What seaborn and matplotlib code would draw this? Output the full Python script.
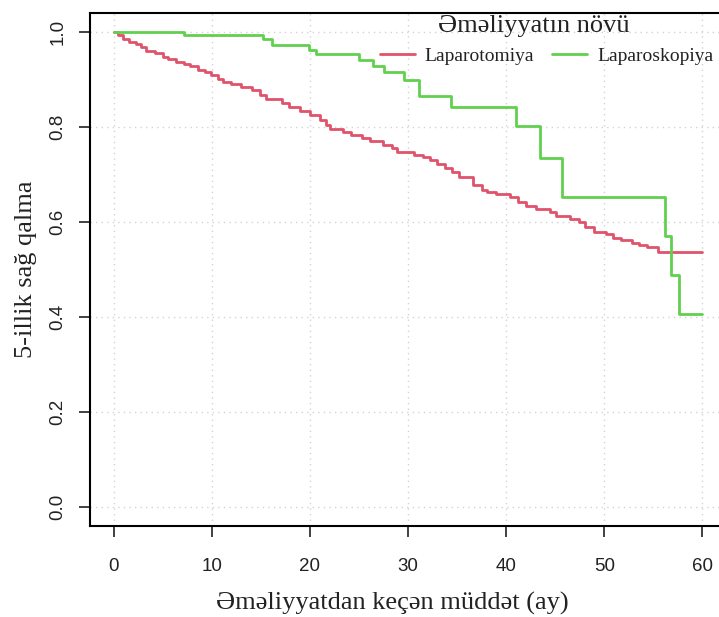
import matplotlib
matplotlib.use("Agg")
import matplotlib.pyplot as plt
from matplotlib.lines import Line2D
import seaborn as sns
import pandas as pd

# ---- data ----
groups = ["Laparotomiya", "Laparoskopiya"]
legend_title = "Əməliyyatın növü"

lap_tomiya_time = [0, 0.5, 1.0, 1.6, 2.3, 2.8, 3.3, 4.2, 5.0, 5.5, 6.4, 7.2, 7.8, 8.6,
                   9.3, 9.9, 10.6, 11.1, 12.0, 13.0, 14.1, 14.9, 15.5, 17.2, 17.9, 19.0,
                   20.0, 21.0, 21.6, 22.1, 23.4, 24.2, 25.3, 26.1, 27.5, 28.4, 28.9, 30.6,
                   31.5, 32.2, 33.0, 33.8, 34.5, 35.2, 36.6, 37.5, 38.0, 39.0, 40.4, 41.2,
                   42.0, 43.0, 44.5, 45.1, 46.5, 47.4, 48.0, 48.9, 50.2, 50.9, 51.7, 52.8,
                   53.5, 54.3, 55.5, 60.0]
lap_tomiya_surv = [1.0, 0.993, 0.986, 0.980, 0.974, 0.968, 0.960, 0.955, 0.948, 0.943,
                   0.937, 0.932, 0.928, 0.921, 0.916, 0.910, 0.902, 0.895, 0.890, 0.884,
                   0.877, 0.868, 0.859, 0.851, 0.842, 0.834, 0.826, 0.815, 0.805, 0.796,
                   0.790, 0.784, 0.777, 0.770, 0.763, 0.755, 0.748, 0.742, 0.736, 0.730,
                   0.722, 0.714, 0.706, 0.694, 0.678, 0.668, 0.664, 0.660, 0.652, 0.643,
                   0.634, 0.628, 0.622, 0.612, 0.607, 0.600, 0.590, 0.579, 0.574, 0.567,
                   0.562, 0.556, 0.551, 0.547, 0.537, 0.537]

lap_skopiya_time = [0, 7.2, 15.2, 16.1, 19.9, 20.6, 25.0, 26.4, 27.6, 29.6, 31.1, 34.4,
                    41.0, 43.4, 45.7, 56.2, 56.8, 57.6, 60.0]
lap_skopiya_surv = [1.0, 0.994, 0.986, 0.972, 0.962, 0.953, 0.941, 0.929, 0.916, 0.899,
                    0.865, 0.843, 0.802, 0.734, 0.653, 0.571, 0.488, 0.407, 0.407]

x_ticks = [0, 10, 20, 30, 40, 50, 60]
y_ticks = [0.0, 0.2, 0.4, 0.6, 0.8, 1.0]
y_tick_labels = ["0.0", "0.2", "0.4", "0.6", "0.8", "1.0"]
colors = ["#DF536B", "#61D04F"]

df = pd.concat([
    pd.DataFrame({"time": lap_tomiya_time, "surv": lap_tomiya_surv, "group": groups[0]}),
    pd.DataFrame({"time": lap_skopiya_time, "surv": lap_skopiya_surv, "group": groups[1]}),
], ignore_index=True)

sns.set_style("white")
plt.rcParams["font.family"] = ["Liberation Sans", "DejaVu Sans"]

fig = plt.figure(figsize=(7.19, 6.17), dpi=100)
ax = fig.add_axes([90 / 719, (617 - 526) / 617, (726 - 90) / 719, (526 - 13) / 617])

sns.lineplot(data=df, x="time", y="surv", hue="group", palette=dict(zip(groups, colors)),
             estimator=None, drawstyle="steps-post", linewidth=2.0, legend=False, ax=ax)

ax.set_xlim(-2.4, 62.4)
ax.set_ylim(-0.04, 1.04)
ax.set_xticks(x_ticks)
ax.set_yticks(y_ticks)
ax.set_yticklabels(y_tick_labels)
ax.grid(True, color="lightgray", linestyle=(0, (1, 3)), linewidth=1.0)
ax.set_axisbelow(True)

for s in ax.spines.values():
    s.set_color("black")
    s.set_linewidth(1.5)

ax.tick_params(axis="both", direction="out", length=8, width=1.3, color="#333333",
               labelsize=13.5, labelcolor="#222222", bottom=True, left=True)
ax.tick_params(axis="x", pad=15)
ax.tick_params(axis="y", pad=9, labelrotation=90)
for lab in ax.get_yticklabels():
    lab.set_va("center")

serif = ["Liberation Serif", "DejaVu Serif"]
ax.set_xlabel("Əməliyyatdan keçən müddət (ay)", family=serif, fontsize=19, color="#222222")
ax.set_ylabel("5-illik sağ qalma", family=serif, fontsize=19, color="#222222")
ax.xaxis.set_label_coords((392 - 90) / (726 - 90), -(592 - 526) / (526 - 13))
ax.yaxis.set_label_coords(-(90 - 37) / (726 - 90), 0.5)

# legend title drawn as real text, entries via legend
fig.text(534 / 719, 1 - 26 / 617, legend_title, family=serif, fontsize=19,
         color="#222222", ha="center", va="center")
handles = [Line2D([0], [0], color=c, lw=2) for c in colors]
leg = ax.legend(handles, groups, ncol=2, frameon=False,
                loc="upper right", bbox_to_anchor=(725 / 719, 1 - 36 / 617),
                bbox_transform=fig.transFigure,
                prop={"family": serif, "size": 14},
                handlelength=1.8, handletextpad=0.5, columnspacing=0.95, borderpad=0.1)
for t in leg.get_texts():
    t.set_color("#222222")

fig.savefig("out.png", dpi=100)
